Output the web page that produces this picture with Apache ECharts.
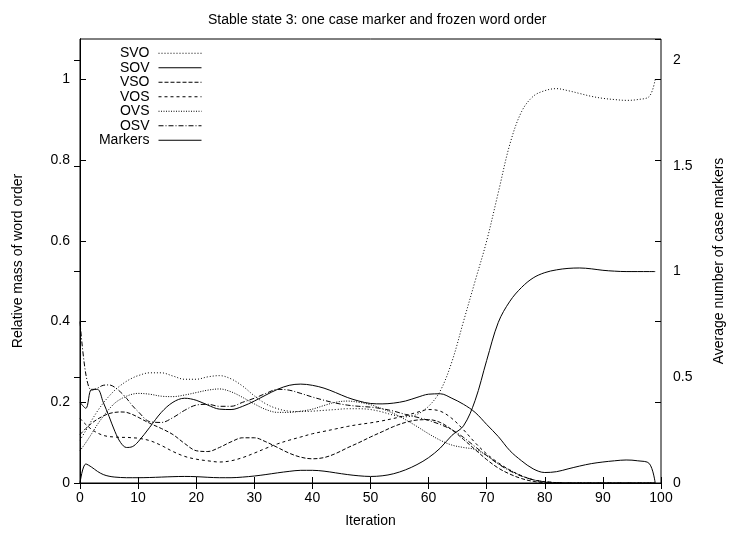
<!DOCTYPE html>
<html>
<head>
<meta charset="utf-8">
<script src="https://cdn.jsdelivr.net/npm/echarts@6/dist/echarts.min.js"></script>
<style>
  html, body { margin: 0; padding: 0; background: #fff; }
  #chart { width: 734px; height: 533px; }
</style>
</head>
<body>
<div id="chart"></div>
<script>
// Iteration steps at which the simulation state was sampled
const iterations = [0,1,2,3,4,5,6,7,8,9,10,
  12,14,16,18,20,22,24,26,28,30,32,34,36,38,40,42,44,46,48,50,
  52,54,56,58,60,62,64,66,68,70,72,74,76,78,80,82,84,86,88,90,
  92,94,96,98,99];

// Relative mass of each word order (left axis)
const svo = [0.106,0.13,0.155,0.178,0.198,0.215,0.23,0.242,0.252,0.26,0.266,
  0.273,0.273,0.265,0.257,0.257,0.263,0.266,0.258,0.24,0.216,0.196,0.184,0.178,0.177,0.178,0.18,0.182,0.184,0.184,0.182,
  0.176,0.168,0.164,0.17,0.19,0.228,0.3,0.4,0.5,0.6,0.72,0.84,0.92,0.958,0.972,0.977,0.972,0.965,0.958,0.953,
  0.95,0.948,0.95,0.958,1.0];
const sov = [0.2,0.185,0.232,0.232,0.2,0.165,0.128,0.1,0.088,0.09,0.102,
  0.138,0.175,0.2,0.21,0.205,0.193,0.183,0.182,0.19,0.203,0.218,0.232,0.242,0.245,0.242,0.235,0.224,0.212,0.203,0.197,
  0.196,0.198,0.203,0.212,0.22,0.221,0.21,0.195,0.175,0.145,0.115,0.08,0.055,0.035,0.026,0.028,0.035,0.042,0.048,0.052,
  0.055,0.057,0.055,0.048,0];
const vso = [0.12,0.135,0.148,0.158,0.166,0.172,0.175,0.176,0.175,0.17,0.163,
  0.148,0.135,0.12,0.098,0.08,0.078,0.088,0.102,0.112,0.112,0.102,0.088,0.074,0.064,0.06,0.063,0.073,0.087,0.1,0.114,
  0.127,0.14,0.15,0.156,0.157,0.15,0.132,0.108,0.083,0.058,0.037,0.022,0.011,0.004,0.001,0,0,0,0,0,
  0,0,0,0,0];
const vos = [0.16,0.145,0.133,0.124,0.118,0.115,0.114,0.113,0.113,0.112,0.111,
  0.105,0.093,0.078,0.066,0.059,0.055,0.052,0.055,0.063,0.074,0.086,0.097,0.106,0.114,0.122,0.128,0.134,0.14,0.145,0.149,
  0.154,0.16,0.167,0.175,0.182,0.178,0.16,0.132,0.1,0.072,0.05,0.032,0.018,0.008,0.003,0.001,0,0,0,0,
  0,0,0,0,0];
const ovs = [0.08,0.1,0.122,0.145,0.165,0.183,0.198,0.208,0.215,0.22,0.222,
  0.22,0.215,0.214,0.218,0.224,0.23,0.233,0.226,0.212,0.196,0.182,0.175,0.175,0.178,0.183,0.192,0.2,0.203,0.2,0.194,
  0.184,0.172,0.157,0.14,0.122,0.106,0.094,0.088,0.083,0.068,0.048,0.032,0.018,0.008,0.003,0.001,0,0,0,0,
  0,0,0,0,0];
const osv = [0.4,0.27,0.23,0.235,0.242,0.243,0.237,0.225,0.21,0.192,0.177,
  0.152,0.15,0.162,0.18,0.193,0.195,0.19,0.19,0.2,0.21,0.222,0.232,0.23,0.222,0.213,0.205,0.198,0.193,0.19,0.188,
  0.184,0.178,0.17,0.163,0.155,0.145,0.132,0.113,0.09,0.068,0.047,0.03,0.017,0.008,0.003,0.001,0,0,0,0,
  0,0,0,0,0];

// Average number of case markers (right axis)
const markers = [0,0.09,0.075,0.055,0.04,0.032,0.028,0.026,0.025,0.025,0.025,
  0.026,0.028,0.03,0.031,0.03,0.027,0.025,0.025,0.028,0.033,0.04,0.048,0.055,0.06,0.06,0.056,0.048,0.04,0.034,0.031,
  0.034,0.044,0.062,0.087,0.12,0.165,0.225,0.27,0.39,0.58,0.76,0.86,0.925,0.97,0.995,1.008,1.015,1.017,1.013,1.006,
  1.002,1.0,1.0,1.0,1.0];

const seriesNames = ['SVO', 'SOV', 'VSO', 'VOS', 'OVS', 'OSV', 'Markers'];

const FONT = 'Liberation Sans, Arial, Helvetica, sans-serif';
const black = '#000';

function pairs(values) {
  return iterations.map((it, i) => [it, values[i]]);
}

function lineSeries(name, values, dash, yAxisIndex) {
  return {
    name: name,
    type: 'line',
    xAxisIndex: 0,
    yAxisIndex: yAxisIndex,
    data: pairs(values),
    symbol: 'none',
    showSymbol: false,
    smooth: 0.35,
    silent: true,
    animation: false,
    lineStyle: { color: black, width: 1, type: dash },
    itemStyle: { color: black }
  };
}

const tickStyle = { show: true, inside: true, length: 6, lineStyle: { color: black, width: 1 } };
const lineStyleAxis = { show: true, lineStyle: { color: black, width: 1 } };
const labelStyle = { color: black, fontFamily: FONT, fontSize: 14 };

const chart = echarts.init(document.getElementById('chart'), null, { renderer: 'canvas' });

chart.setOption({
  animation: false,
  backgroundColor: '#fff',
  title: {
    text: 'Stable state 3: one case marker and frozen word order',
    left: 203,
    top: 8,
    textStyle: { color: black, fontFamily: FONT, fontSize: 14, fontWeight: 'normal' }
  },
  legend: {
    orient: 'vertical',
    right: 532,
    top: 46,
    padding: 0,
    align: 'right',
    itemGap: 0,
    itemWidth: 43,
    itemHeight: 14,
    selectedMode: false,
    itemStyle: { opacity: 0, borderWidth: 0 },
    lineStyle: { width: 1 },
    textStyle: { color: black, fontFamily: FONT, fontSize: 14, lineHeight: 14.5, padding: [0, 4, 0, 0] },
    data: seriesNames
  },
  grid: {
    left: 80, right: 70, top: 39, bottom: 50,
    show: true, borderColor: black, borderWidth: 1, backgroundColor: 'transparent'
  },
  xAxis: [
    {
      type: 'value', position: 'bottom', min: 0, max: 100, interval: 10,
      axisLine: lineStyleAxis, axisTick: tickStyle, splitLine: { show: false },
      axisLabel: Object.assign({ margin: 8 }, labelStyle),
      name: 'Iteration', nameLocation: 'middle', nameGap: 31,
      nameTextStyle: labelStyle
    },
    {
      type: 'value', position: 'top', min: 0, max: 100, interval: 10,
      axisLine: lineStyleAxis, axisTick: tickStyle, splitLine: { show: false },
      axisLabel: { show: false }
    }
  ],
  yAxis: [
    {
      type: 'value', position: 'left', min: 0, max: 1.1, interval: 0.2,
      axisLine: lineStyleAxis, axisTick: tickStyle, splitLine: { show: false },
      axisLabel: Object.assign({ margin: 10, showMaxLabel: false }, labelStyle),
      name: 'Relative mass of word order', nameLocation: 'middle', nameGap: 55,
      nameTextStyle: labelStyle
    },
    {
      type: 'value', position: 'right', min: 0, max: 2.1, interval: 0.5,
      axisLine: lineStyleAxis, axisTick: tickStyle, splitLine: { show: false },
      axisLabel: Object.assign({ margin: 12, showMaxLabel: false }, labelStyle),
      name: 'Average number of case markers', nameLocation: 'middle', nameGap: 51,
      nameRotate: 90,
      nameTextStyle: labelStyle
    },
    {
      type: 'value', position: 'right', min: 0, max: 1.1, interval: 0.2,
      axisLine: { show: false }, axisTick: tickStyle, splitLine: { show: false },
      axisLabel: { show: false }
    }
  ],
  series: [
    lineSeries('SVO', svo, [1, 2], 0),
    lineSeries('SOV', sov, 'solid', 0),
    lineSeries('VSO', vso, [4, 2], 0),
    lineSeries('VOS', vos, [3, 3], 0),
    lineSeries('OVS', ovs, [1, 1.5], 0),
    lineSeries('OSV', osv, [5, 2, 1, 2], 0),
    lineSeries('Markers', markers, 'solid', 1)
  ]
});
</script>
</body>
</html>
